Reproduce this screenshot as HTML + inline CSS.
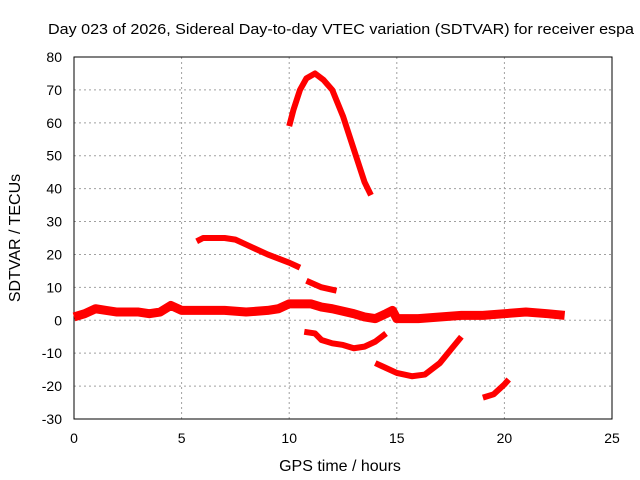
<!DOCTYPE html>
<html><head><meta charset="utf-8"><style>body{margin:0;background:#fff}svg{display:block;font-family:"Liberation Sans",sans-serif}</style></head><body>
<svg id="c" width="640" height="480"></svg>
<script>
const xTicks=[0,5,10,15,20,25];
const yTicks=[-30,-20,-10,0,10,20,30,40,50,60,70,80];
const segMain=[[0,1],[0.5,2],[1,3.5],[1.5,3],[2,2.5],[3,2.5],[3.5,2],[4,2.5],[4.5,4.5],[5,3],[6,3],[7,3],[8,2.5],[9,3],[9.5,3.5],[10,5],[11,5],[11.5,4],[12,3.5],[13,2],[13.5,1],[14,0.5],[14.5,2],[14.8,3],[15,0.5],[16,0.5],[17,1],[18,1.5],[19,1.5],[20,2],[21,2.5],[22,2],[22.8,1.5]];
const segA=[[5.7,24],[6,25],[7,25],[7.5,24.5],[8,23],[9,20],[10,17.5],[10.5,16]];
const segB=[[10.8,12],[11.5,10],[12.2,9]];
const segC=[[10,59],[10.2,64],[10.5,70],[10.8,73.5],[11.2,75],[11.6,73],[12,70],[12.5,62],[13,52],[13.5,42],[13.8,38]];
const segD=[[10.7,-3.5],[11.2,-4],[11.5,-6],[12,-7],[12.5,-7.5],[13,-8.5],[13.5,-8],[14,-6.5],[14.5,-4]];
const segE=[[14,-13],[14.5,-14.5],[15,-16],[15.7,-17],[16.3,-16.5],[17,-13],[17.5,-9],[18,-5]];
const segF=[[19,-23.5],[19.5,-22.5],[20,-19.5],[20.2,-18]];
const L=74,R=612,T=57,B=419;
const X=v=>L+(v-0)/25*(R-L), Y=v=>B-(v+30)/110*(B-T);
const s=document.getElementById('c'),NS='http://www.w3.org/2000/svg';
function mk(t,a,txt){const e=document.createElementNS(NS,t);for(const k in a)e.setAttribute(k,a[k]);if(txt!=null)e.textContent=txt;s.appendChild(e);return e;}
for(const v of xTicks){
 if(v>0&&v<25){const g=mk('line',{x1:X(v),x2:X(v),y1:T,y2:B,stroke:'#a0a0a0','stroke-dasharray':'2,3'});
 
 }
 const t=mk('text',{x:X(v),y:B+24,'text-anchor':'middle','font-size':14},v);
 
 
}
for(const v of yTicks){
 if(v>-30&&v<80){const g=mk('line',{x1:L,x2:R,y1:Y(v),y2:Y(v),stroke:'#a0a0a0','stroke-dasharray':'2,3'});
 
 }
 const t=mk('text',{x:L-12,y:Y(v)+5,'text-anchor':'end','font-size':14},v);
 
 
}
const fr=mk('rect',{x:L,y:T,width:R-L,height:B-T,fill:'none',stroke:'#000'});


for(const seg of [segMain,segA,segB,segC,segD,segE,segF]){
 const p=mk('polyline',{points:seg.map(d=>X(d[0])+','+Y(d[1])).join(' '),fill:'none',stroke:'#ff0000','stroke-width':seg===segMain?9:6,'stroke-linejoin':'round'});
 
 
}
const ti=mk('text',{x:48,y:34,'font-size':15,textLength:586,lengthAdjust:'spacingAndGlyphs'},'Day 023 of 2026, Sidereal Day-to-day VTEC variation (SDTVAR) for receiver espa');


const xl=mk('text',{x:340,y:471,'text-anchor':'middle','font-size':16},'GPS time / hours');


const yl=mk('text',{x:20,y:238,'text-anchor':'middle','font-size':16,transform:'rotate(-90 20 238)'},'SDTVAR / TECUs');


</script>
</body></html>
